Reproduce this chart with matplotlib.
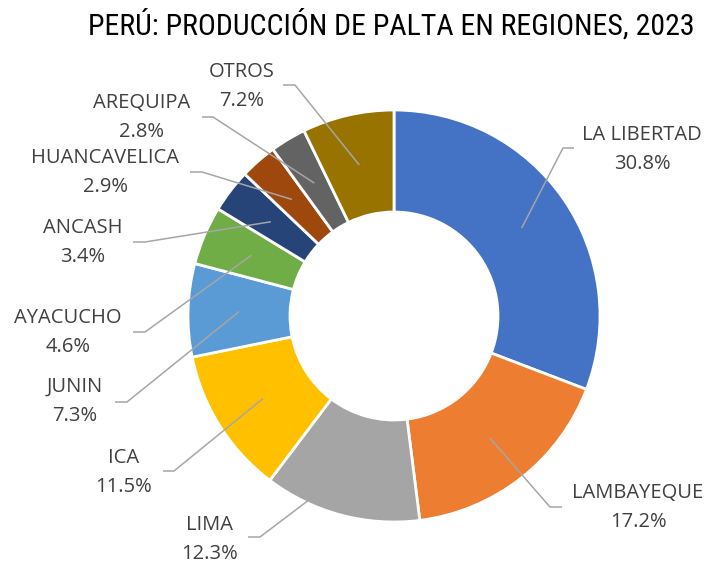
import numpy as np
import matplotlib.pyplot as plt
from matplotlib import font_manager

regiones = ['LA LIBERTAD', 'LAMBAYEQUE', 'LIMA', 'ICA', 'JUNIN', 'AYACUCHO',
            'ANCASH', 'HUANCAVELICA', 'AREQUIPA', 'OTROS']
participacion = [30.8, 17.2, 12.3, 11.5, 7.3, 4.6, 3.4, 2.9, 2.8, 7.2]
colores = ['#4472C4', '#ED7D31', '#A5A5A5', '#FFC000', '#5B9BD5', '#70AD47',
           '#264478', '#9E480E', '#636363', '#997300']
titulo = 'PERÚ: PRODUCCIÓN DE PALTA EN REGIONES, 2023'

W, H = 708, 563
# etiquetas en pixeles: x del texto, y del nombre, x del codo, x del extremo, y de la linea
etiq_pos = [
    (642, 135, 563, 574, 148),
    (638, 493, 550, 562, 507),
    (210, 525, 260, 248, 537),
    (124, 458, 174, 163, 471),
    (75, 387, 127, 115, 402),
    (68, 318, 145, 133, 332),
    (83, 228, 145, 133, 242),
    (105, 158, 202, 190, 172),
    (142, 103, 213, 202, 117),
    (242, 72, 295, 283, 85),
]

# fuente angosta para el titulo si existe
fp_titulo = font_manager.FontProperties(family='Liberation Sans')
for fam, st in [('Liberation Sans Narrow', 'normal'), ('Roboto Condensed', 'normal'),
                ('DejaVu Sans', 'condensed')]:
    try:
        f = font_manager.findfont(font_manager.FontProperties(family=fam, stretch=st),
                                  fallback_to_default=False)
        if 'Narrow' in f or 'Condensed' in f:
            fp_titulo = font_manager.FontProperties(fname=f)
            break
    except Exception:
        pass

fig = plt.figure(figsize=(W / 100, H / 100), dpi=100)
ax = fig.add_axes([0, 0, 1, 1])

cx, cy, R = 394, H - 316, 206
wedges, _ = ax.pie(participacion, colors=colores, startangle=90, counterclock=False,
                   center=(cx, cy), radius=R, frame=True,
                   wedgeprops=dict(width=102, edgecolor='white', linewidth=2))
ax.set_xlim(0, W)
ax.set_ylim(0, H)
ax.set_aspect('equal')
ax.axis('off')

fuente = ['Open Sans', 'DejaVu Sans']
for w, nombre, val, (tx, ty, ex, hx, ly) in zip(wedges, regiones, participacion, etiq_pos):
    ang = np.deg2rad((w.theta1 + w.theta2) / 2)
    rm = w.r - w.width / 2
    px = cx + rm * np.cos(ang)
    py = cy + rm * np.sin(ang)
    ax.plot([px, ex, hx], [py, H - ly, H - ly], color='#A6A6A6', lw=1.1,
            solid_capstyle='butt', zorder=3)
    ax.text(tx, H - ty, nombre, ha='center', va='center', fontsize=14.5,
            family=fuente, color='#404040')
    ax.text(tx, H - ty - 29, f'{val:.1f}%', ha='center', va='center', fontsize=14.5,
            family=fuente, color='#404040')

t = ax.text(391, H - 25, titulo, ha='center', va='center', fontproperties=fp_titulo,
            color='black')
t.set_fontsize(20)
fig.canvas.draw()
ancho = t.get_window_extent().width
t.set_fontsize(min(20 * 607 / ancho, 23))

fig.savefig('out.png', dpi=100)
